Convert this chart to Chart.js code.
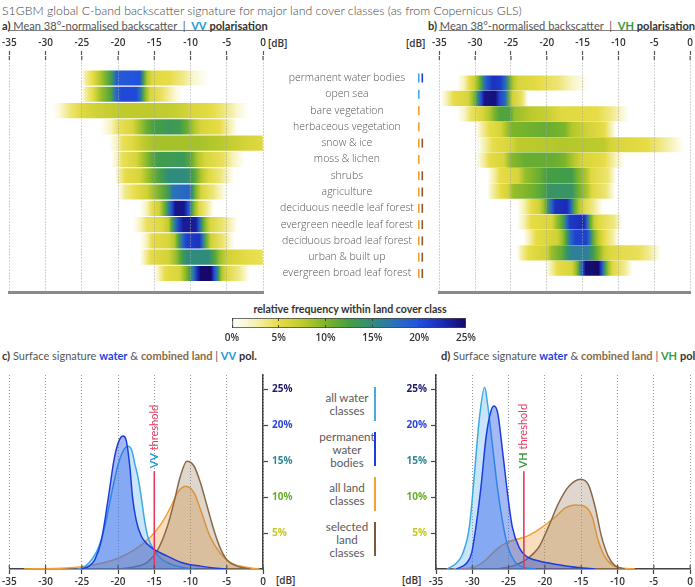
<!DOCTYPE html>
<html lang="en">
<head>
<meta charset="UTF-8">
<title>S1GBM global C-band backscatter signature</title>
<script src="https://cdn.jsdelivr.net/npm/chart.js"></script>
<style>
  body { margin: 0; width: 695px; height: 587px; position: relative; overflow: hidden; background: #fff;
         font-family: Lato, "Open Sans", sans-serif; color: #555; }
  .t { position: absolute; white-space: nowrap; transform: translateY(-50%); line-height: 1.15; }
  .t b { font-weight: 700; color: #333; }
  .c { position: absolute; }
  .leg { position: absolute; width: 100px; left: 297px; text-align: center; font-size: 11.6px;
         line-height: 12.8px; color: #5a5a5a; }
  .sw { position: absolute; left: 374px; width: 1.6px; }
  .tick { font-family: "Open Sans", sans-serif; font-size: 10px; font-weight: 600; color: #333; }
</style>
</head>
<body>
<div class="t" style="left:2px; top:11px; font-size:12.3px; font-weight:300; color:#444;">S1GBM global C-band backscatter signature for major land cover classes (as from Copernicus GLS)</div>
<div class="t" style="left:2px; top:26px; font-size:11.1px;"><b>a)</b> Mean 38°-normalised backscatter &nbsp;|&nbsp; <b style="color:#1b9ad8">VV</b> <b>polarisation</b></div>
<div class="t" style="left:428px; top:26px; font-size:11.1px;"><b>b)</b> Mean 38°-normalised backscatter &nbsp;|&nbsp; <b style="color:#3a9a3a">VH</b> <b>polarisation</b></div>
<div class="t tick" style="left:268px; top:44px;">[dB]</div>
<div class="t tick" style="left:406px; top:44px;">[dB]</div>
<div class="t" style="left:200px; width:300px; text-align:center; top:309px; font-size:10.6px; font-weight:700; color:#333;">relative frequency within land cover class</div>
<div class="t" style="left:2px; top:356px; font-size:11px;"><b>c)</b> Surface signature <b style="color:#2145e0">water</b> &amp; <b style="color:#8b6a45">combined land</b> | <b style="color:#1b9ad8">VV</b> <b>pol.</b></div>
<div class="t" style="left:441px; top:356px; font-size:11px;"><b>d)</b> Surface signature <b style="color:#2145e0">water</b> &amp; <b style="color:#8b6a45">combined land</b> | <b style="color:#3a9a3a">VH</b> <b>pol.</b></div>
<div class="t tick" style="left:276px; top:581px;">[dB]</div>
<div class="t tick" style="left:402px; top:581px;">[dB]</div>

<div class="leg" style="top:392px;">all water<br>classes</div>
<div class="leg" style="top:431px;">permanent<br>water<br>bodies</div>
<div class="leg" style="top:482px;">all land<br>classes</div>
<div class="leg" style="top:521px;">selected<br>land<br>classes</div>
<div class="sw" style="top:387px; height:34px; background:#4aa8e2;"></div>
<div class="sw" style="top:432px; height:34px; background:#1b3de0;"></div>
<div class="sw" style="top:477px; height:34px; background:#f5a033;"></div>
<div class="sw" style="top:522px; height:34px; background:#7a5a3a;"></div>

<canvas id="chartA" class="c" width="430" height="270" style="left:0; top:30px;"></canvas>
<canvas id="chartB" class="c" width="265" height="270" style="left:430px; top:30px;"></canvas>
<canvas id="chartBar" class="c" width="260" height="45" style="left:220px; top:300px;"></canvas>
<canvas id="chartC" class="c" width="300" height="222" style="left:0; top:365px;"></canvas>
<canvas id="chartD" class="c" width="295" height="222" style="left:400px; top:365px;"></canvas>

<script>
// ---- data ----
const xTicks = [-35, -30, -25, -20, -15, -10, -5, 0];
const pctTicks = [5, 10, 15, 20, 25];
const pctTickColors = ['#c8c81e', '#6cae2a', '#2f8a96', '#2a45e0', '#1c1a6e'];
const barTicks = [0, 5, 10, 15, 20, 25];

const classes = ['permanent water bodies', 'open sea', 'bare vegetation', 'herbaceous vegetation', 'snow & ice',
  'moss & lichen', 'shrubs', 'agriculture', 'deciduous needle leaf forest', 'evergreen needle leaf forest',
  'deciduous broad leaf forest', 'urban & built up', 'evergreen broad leaf forest'];
const classGroups = [['water', 'perm'], ['water'], ['land'], ['land'], ['land', 'sel'], ['land'], ['land', 'sel'],
  ['land', 'sel'], ['land', 'sel'], ['land', 'sel'], ['land', 'sel'], ['land', 'sel'], ['land', 'sel']];
const groupColors = { water: '#4aa8e2', perm: '#1b3de0', land: '#f5a033', sel: '#8b5a2b' };

// colour scale of the frequency strips
const cmapPct = [0, 2.5, 5, 7.5, 10, 12.5, 15, 17.5, 20, 22.5, 25];
const cmapColors = ['#ffffff', '#f6f1b4', '#e7dc45', '#bfcb2c', '#7db52a', '#45a042', '#2f8c7c', '#2a6fbf', '#2150e0', '#1a2bb4', '#15086a'];

// relative frequency [dB, %] along each strip, VV
const vvProfiles = [
  [[-25,0],[-24.5,3],[-23.5,5],[-22.5,8],[-21.5,11],[-20.8,14],[-20.2,19],[-17,20],[-16.5,13],[-16,8],[-15.3,5.5],[-13,5],[-11,3.5],[-9.5,1.5],[-7.5,0]],
  [[-25,0],[-24.5,3],[-23.5,5],[-22.3,9],[-21,12],[-20.3,18],[-19.5,20.5],[-17.5,20.5],[-16.8,16],[-16.3,10],[-15.6,6],[-14,4.5],[-13,3],[-12,1.2],[-11,0]],
  [[-29,0],[-28,1.5],[-26.5,4],[-25,5.5],[-23,6.5],[-20,7.5],[-15,7.5],[-12,7],[-10,6],[-7,5],[-5,3.5],[-3.5,1.5],[-2,0]],
  [[-22.5,0],[-21,2],[-20,4.5],[-18,6],[-17,8.5],[-16,11],[-15,12.5],[-13,13.5],[-11.5,13],[-10.5,11],[-9.5,8],[-8.5,6],[-6,5],[-4.5,2.5],[-3.5,0]],
  [[-21.3,0],[-20,2.5],[-19.5,4.5],[-18,5.5],[-16.5,7.5],[-15,8.5],[-9,8.5],[-5,7.5],[-2,6],[0,5.5]],
  [[-21,0],[-20,2.5],[-19.5,4.5],[-17.5,6],[-16.5,8.5],[-15.5,11],[-14.5,13],[-11,13.5],[-10,11.5],[-9,8],[-8,6],[-5.5,4.5],[-4,2],[-2.5,0]],
  [[-20.5,0],[-19.8,3],[-19,5],[-17,6],[-16,8.5],[-15,11],[-14,13],[-13,15],[-10.5,15],[-9.5,12],[-8.5,8],[-7.5,5.5],[-6,4],[-4,0]],
  [[-20,0],[-19,3.5],[-17.5,5],[-16,6.5],[-15,9],[-14,11],[-13,13.5],[-12.5,17],[-10.3,18.5],[-9.7,14],[-9.2,9.5],[-8.5,6],[-7,4],[-5,0]],
  [[-17,0],[-16,2.5],[-15.3,5],[-14.3,6.5],[-13.7,10],[-13.1,15],[-12.6,20],[-12.1,24],[-10.9,24],[-10.3,20],[-9.9,14],[-9.4,9],[-8.8,5.5],[-7.8,3.5],[-6.8,0]],
  [[-18,0],[-17,2],[-16,4.5],[-14,5.5],[-13,7.5],[-12.7,11],[-12.2,16],[-11.6,21],[-11,23.5],[-9.3,23.5],[-8.8,19],[-8.4,13],[-7.9,9],[-7.3,6],[-5.5,4],[-3.5,0]],
  [[-17,0],[-16,2.5],[-15.3,5],[-13,6],[-12.2,8],[-11.7,12],[-11.2,17],[-10.6,21],[-8.8,22],[-8.3,17],[-7.8,11],[-7.2,6.5],[-5.5,4],[-4,0]],
  [[-17,0],[-16.2,3],[-15.5,5],[-13,6.5],[-12,9],[-11.2,12.5],[-10.5,15],[-7.5,15],[-6.7,12],[-6,9],[-5,6.5],[-2,5],[0,4.5]],
  [[-15,0],[-14.2,3],[-13.5,5],[-11.5,6],[-10.8,9],[-10.2,12],[-9.6,17],[-9.1,22],[-8.6,25],[-7.2,25],[-6.7,20],[-6.2,14],[-5.7,8],[-5,5.5],[-3.3,3.5],[-1.8,0]]
];

// relative frequency [dB, %] along each strip, VH
const vhProfiles = [
  [[-32.5,0],[-31.5,2.5],[-30.8,5],[-30,7],[-29.5,10],[-29,14],[-28.5,19],[-27.5,22],[-26.5,21.5],[-25.8,18],[-25.3,12],[-24.7,8],[-24,6],[-21,5],[-18.5,4],[-16.5,2],[-14,0]],
  [[-34.8,0],[-34,2.5],[-33,5],[-31,6],[-30.3,9],[-29.7,14],[-29.2,20],[-28.7,24],[-27.2,24.5],[-26.6,21],[-25.8,18],[-25.3,11],[-24.8,6.5],[-23.5,4.5],[-22.6,0]],
  [[-32.5,0],[-31.5,2],[-30.5,4.5],[-29,6],[-28,8],[-27.2,10.5],[-26.5,12],[-25.2,12],[-24.5,9],[-22,7.5],[-20,7],[-18,5.5],[-13,5],[-11,3.5],[-9.5,1.5],[-8.5,0]],
  [[-30,0],[-29,3],[-28,5],[-26.5,6],[-25.8,8],[-25,10],[-20,11],[-17.5,10],[-16.5,8],[-14.5,6.5],[-12,5],[-11,2.5],[-10.3,0]],
  [[-29.8,0],[-28.5,3],[-27.5,5],[-25,6],[-24,7.5],[-18,8],[-12,7.5],[-11,6],[-6,5],[-4,3.5],[-2,1.5],[-0.8,0]],
  [[-30,0],[-29,2.5],[-28,5],[-26,6],[-25,9.5],[-23,11],[-19,11],[-17.5,10],[-16.3,8],[-15,6],[-12,5],[-10.5,2.5],[-9,0]],
  [[-28.3,0],[-27.3,3],[-26.5,5],[-24,6],[-23,9],[-21,11],[-20,12.5],[-16.5,13],[-15.8,10.5],[-14.5,8],[-13.8,5.5],[-11.5,4],[-10.3,0]],
  [[-28.3,0],[-27.5,3],[-26.5,5],[-25.3,6.5],[-24.7,9],[-22,10.5],[-20.5,12],[-19.7,14],[-16.5,14],[-15.7,11],[-14.3,8],[-13.7,5.5],[-11.8,4],[-10.4,0]],
  [[-24.2,0],[-23.2,2.5],[-22.2,5],[-21,6.5],[-20.4,9],[-19.9,13],[-19.4,18],[-18.8,22],[-17.2,22.5],[-16.6,18],[-16.2,12],[-15.5,8],[-14.8,5.5],[-13.5,3.5],[-12.2,0]],
  [[-24.2,0],[-23.2,2.5],[-22.2,5],[-19.3,6],[-18.6,9],[-17.8,12],[-17.3,17],[-16.8,21.5],[-14.8,22.5],[-14.3,17],[-13.9,11],[-13.4,7],[-12.8,5.5],[-10.5,3.5],[-9.5,0]],
  [[-23.3,0],[-22.5,2.5],[-21.5,5],[-18.5,6.5],[-17.8,9],[-17.2,13],[-16.7,18],[-16,21],[-14.5,21],[-14,17],[-13.5,11],[-12.8,7.5],[-12,5],[-10.8,3],[-9.9,0]],
  [[-24.2,0],[-23.5,3],[-22.5,5],[-20,6.5],[-19.3,9],[-18,11],[-17.2,14],[-16.5,16],[-14.3,16],[-13.5,13],[-12.8,10],[-12,7],[-11,5.5],[-7,4.5],[-5.5,3],[-4,0]],
  [[-20.2,0],[-19.3,3],[-18.5,5],[-16.5,6],[-15.9,9],[-15.4,14],[-15,20],[-14.6,24.5],[-12.8,25],[-12.3,20],[-11.9,13],[-11.3,8],[-10.8,5.5],[-9.2,3.5],[-8,0]]
];

// surface signature curves [dB, %]
const vvPermWater = [[-25,0],[-24,0.4],[-23.2,1.3],[-22.3,4],[-21.4,9.5],[-20.5,15.5],[-19.8,18],[-19.3,18.5],[-18.9,18],[-18.4,14.5],[-18,10],[-17.5,6.8],[-16.8,4.6],[-15.9,3.4],[-15,2.7],[-13.2,1.8],[-10.9,0.8],[-8.6,0.4],[-6.4,0.1],[-5,0]];
const vvAllWater = [[-25.5,0],[-24.5,0.4],[-23.5,1.5],[-22.7,3],[-21.8,6],[-20.9,10.5],[-20,14.5],[-19.2,16.6],[-18.6,17.1],[-18.1,16.5],[-17.7,14.7],[-17.2,12.5],[-16.8,10],[-16.3,6.5],[-15.8,4.2],[-15,2.6],[-14,1.4],[-13,0.8],[-11.5,0.3],[-9.5,0]];
const vvAllLand = [[-33,0],[-28,0.1],[-24.5,0.4],[-22.3,0.8],[-20,1.5],[-17.7,2.7],[-15.5,4.5],[-14.1,6.2],[-12.7,8.7],[-11.8,10.6],[-10.7,11.5],[-9.5,10.6],[-8.6,8.2],[-7.3,4.5],[-5.9,2.2],[-4.5,0.9],[-2.7,0.3],[-0.5,0]];
const vvSelLand = [[-20,0],[-17.7,0.3],[-15.9,1],[-14.5,2.7],[-13.2,5.9],[-12.3,9.2],[-11.4,12.9],[-10.5,15],[-9.5,14.3],[-8.6,11.9],[-7.7,8.7],[-6.8,5.5],[-5.9,2.9],[-5,1.3],[-3.6,0.4],[-1.8,0]];
const vvThreshold = [-15, 13.6];

const vhPermWater = [[-32.2,0],[-30.8,0.8],[-30.1,2.2],[-29.5,5.9],[-28.8,11.5],[-28.1,18.4],[-27.4,22.1],[-27,22.7],[-26.5,21.7],[-25.8,16.1],[-25.1,10.1],[-24.5,5.9],[-23.5,2.9],[-22.6,1.8],[-20.8,1.1],[-18.1,0.6],[-15.4,0.2],[-13.1,0]];
const vhAllWater = [[-33.5,0],[-32.2,0.8],[-31.3,2.2],[-30.4,5.9],[-29.7,13.3],[-29,21.2],[-28.3,25.3],[-27.9,23],[-27.2,17],[-26.5,11],[-25.8,6.4],[-25.1,3.1],[-24.2,1.1],[-23.1,0.3],[-21.3,0]];
const vhAllLand = [[-32.6,0],[-30.4,0.1],[-29,0.6],[-28.1,1.3],[-26.7,2.7],[-25.4,3.6],[-24,4.1],[-22.6,4.5],[-21.3,5.2],[-20,6.1],[-18.5,7.3],[-17.2,8.5],[-15.8,8.9],[-14.5,8.7],[-13.5,7.3],[-12.7,4.1],[-11.8,1.8],[-10.8,0.6],[-9.9,0.2],[-7.6,0]];
const vhSelLand = [[-26.7,0],[-24.5,0.4],[-22.6,1.3],[-20.8,3.1],[-19.5,5.9],[-18.1,9.2],[-16.7,11.5],[-15.1,12.5],[-14,11.7],[-13.1,8.7],[-12.2,4.5],[-11.3,1.8],[-10.4,0.5],[-9,0]];
const vhThreshold = [-22.9, 13.6];

// ---- helpers ----
Chart.defaults.font.family = '"Open Sans", sans-serif';

function hexToRgb(h) {
  return [parseInt(h.slice(1, 3), 16), parseInt(h.slice(3, 5), 16), parseInt(h.slice(5, 7), 16)];
}
function cmap(p) {
  p = Math.max(0, Math.min(25, p));
  for (let i = 1; i < cmapPct.length; i++) {
    if (p <= cmapPct[i]) {
      const t = (p - cmapPct[i - 1]) / (cmapPct[i] - cmapPct[i - 1]);
      const a = hexToRgb(cmapColors[i - 1]), b = hexToRgb(cmapColors[i]);
      return 'rgb(' + a.map((v, k) => Math.round(v + (b[k] - v) * t)).join(',') + ')';
    }
  }
}
function stripGradient(chart, stops) {
  const xs = chart.scales.x;
  const x0 = xs.getPixelForValue(stops[0][0]);
  const x1 = xs.getPixelForValue(stops[stops.length - 1][0]);
  const g = chart.ctx.createLinearGradient(x0, 0, x1, 0);
  stops.forEach(([db, p]) => g.addColorStop((xs.getPixelForValue(db) - x0) / (x1 - x0), cmap(p)));
  return g;
}

const tickFont = { size: 10, weight: '600' };

// short tick marks on the inner side of the dB axis
const innerTicks = {
  id: 'innerTicks',
  afterDraw(chart) {
    const s = chart.scales.x, { ctx, chartArea } = chart;
    const top = s.position === 'top';
    const y0 = top ? chartArea.top : chartArea.bottom;
    ctx.save();
    ctx.strokeStyle = '#555';
    ctx.lineWidth = 1.2;
    s.ticks.forEach(t => {
      const x = s.getPixelForValue(t.value);
      ctx.beginPath();
      ctx.moveTo(x, y0);
      ctx.lineTo(x, y0 + (top ? 4 : -4));
      ctx.stroke();
    });
    ctx.restore();
  }
};

const classMarkers = {
  id: 'classMarkers',
  afterDraw(chart) {
    const ys = chart.scales.y, ctx = chart.ctx;
    const x0 = chart.chartArea.right + 155;
    classGroups.forEach((g, i) => {
      const y = ys.getPixelForValue(i);
      g.forEach((k, j) => {
        ctx.fillStyle = groupColors[k];
        ctx.fillRect(x0 + j * 3.5, y - 4.5, 1.6, 9);
      });
    });
  }
};

function dbAxisTop() {
  return {
    type: 'linear', position: 'top', min: -35, max: 0,
    afterBuildTicks: s => { s.ticks = xTicks.map(v => ({ value: v })); },
    ticks: { color: '#333', font: tickFont, padding: 2, maxRotation: 0 },
    grid: { color: '#a5a5a5', z: 1, tickColor: '#555', tickLength: 5, tickWidth: 1.2 },
    border: { color: '#555', width: 1.5, dash: [1, 2] },
    afterFit: s => { s.height = 26; }
  };
}
const rowMin = -0.793, rowMax = 12.58;

function stripChart(id, profiles, padding, yAxis, extraPlugins) {
  return new Chart(document.getElementById(id), {
    type: 'bar',
    data: {
      datasets: [{
        data: profiles.map((s, i) => ({ y: i, x: [s[0][0], s[s.length - 1][0]] })),
        backgroundColor: c => (c.chart.chartArea && c.dataIndex !== undefined)
          ? stripGradient(c.chart, profiles[c.dataIndex]) : 'rgba(0,0,0,0)',
        borderWidth: 0,
        barThickness: 14.5
      }]
    },
    options: {
      indexAxis: 'y', responsive: false, animation: false, events: [],
      layout: { padding },
      plugins: { legend: { display: false }, tooltip: { enabled: false } },
      scales: {
        x: dbAxisTop(),
        x2: {
          type: 'linear', position: 'bottom', min: -35, max: 0,
          ticks: { display: false }, grid: { display: false },
          border: { color: '#8a8a8a', width: 3 },
          afterFit: s => { s.height = 8; }
        },
        y: yAxis
      }
    },
    plugins: [innerTicks].concat(extraPlugins)
  });
}

// class names sit on a right-hand axis; an invisible tick length pushes them to the middle
stripChart('chartA', vvProfiles, { left: 7, right: 0, top: 0, bottom: 0 }, {
  type: 'linear', position: 'right', min: rowMin, max: rowMax, reverse: true,
  afterBuildTicks: s => { s.ticks = classes.map((_, i) => ({ value: i })); },
  ticks: { autoSkip: false, callback: v => classes[v], color: '#555', font: { size: 10.5, weight: '300' },
           crossAlign: 'center', padding: 0 },
  grid: { drawOnChartArea: false, tickLength: 17, tickColor: 'rgba(0,0,0,0)' }, border: { display: false },
  afterFit: s => { s.width = 167; }
}, [classMarkers]);

stripChart('chartB', vhProfiles, { left: 6, right: 3, top: 0, bottom: 0 }, {
  type: 'linear', display: false, min: rowMin, max: rowMax, reverse: true
}, []);

// colour bar
new Chart(document.getElementById('chartBar'), {
  type: 'bar',
  data: {
    labels: [''],
    datasets: [{
      data: [[0, 25]],
      backgroundColor: c => {
        const ch = c.chart;
        if (!ch.chartArea) return 'rgba(0,0,0,0)';
        const xs = ch.scales.x;
        const g = ch.ctx.createLinearGradient(xs.getPixelForValue(0), 0, xs.getPixelForValue(25), 0);
        cmapPct.forEach((p, i) => g.addColorStop(p / 25, cmapColors[i]));
        return g;
      },
      borderColor: '#444', borderWidth: 1, borderSkipped: false,
      barPercentage: 1, categoryPercentage: 1
    }]
  },
  options: {
    indexAxis: 'y', responsive: false, animation: false, events: [],
    layout: { padding: { left: 12, right: 12, top: 18, bottom: 0 } },
    plugins: { legend: { display: false }, tooltip: { enabled: false } },
    scales: {
      x: {
        type: 'linear', min: 0, max: 25,
        afterBuildTicks: s => { s.ticks = barTicks.map(v => ({ value: v })); },
        ticks: { callback: v => v + '%', color: '#333', font: { size: 10, weight: '600' }, padding: 4 },
        grid: { z: 1, color: '#444', drawTicks: false },
        border: { display: false, dash: [3, 4] },
        afterFit: s => { s.height = 17; }
      },
      y: { display: false }
    }
  }
});

// surface signature charts
function thresholdLabel(thr, pol, polColor) {
  return {
    id: 'thresholdLabel',
    afterDatasetsDraw(chart) {
      const { ctx, scales: { x, y } } = chart;
      const px = x.getPixelForValue(thr[0]), py = y.getPixelForValue(thr[1]) - 3;
      ctx.save();
      ctx.translate(px, py);
      ctx.rotate(-Math.PI / 2);
      ctx.textBaseline = 'middle';
      ctx.textAlign = 'left';
      ctx.font = '700 11px Lato, "Open Sans"';
      ctx.fillStyle = polColor;
      ctx.fillText(pol, 0, 0);
      const w = ctx.measureText(pol + ' ').width;
      ctx.font = '400 11px Lato, "Open Sans"';
      ctx.fillStyle = '#e9385f';
      ctx.fillText('threshold', w, 0);
      ctx.restore();
    }
  };
}
const toXY = arr => arr.map(([x, y]) => ({ x, y }));
const curve = (data, line, fill) => ({
  data: toXY(data), borderColor: line, backgroundColor: fill, fill: 'origin',
  borderWidth: 1.5, pointRadius: 0, cubicInterpolationMode: 'monotone'
});

function signatureChart(id, s, thr, pol, polColor, side, padding, yWidth) {
  return new Chart(document.getElementById(id), {
    type: 'line',
    data: {
      datasets: [
        { data: [{ x: thr[0], y: 0 }, { x: thr[0], y: thr[1] }], borderColor: '#e9385f', borderWidth: 1.6, pointRadius: 0, fill: false },
        curve(s.perm, '#1b3de0', 'rgba(30,80,230,0.4)'),
        curve(s.all, '#3ba9e6', 'rgba(100,180,240,0.35)'),
        curve(s.sel, '#8a6a48', 'rgba(150,120,90,0.3)'),
        curve(s.land, '#f5a033', 'rgba(235,160,70,0.35)')
      ]
    },
    options: {
      responsive: false, animation: false, events: [],
      layout: { padding },
      plugins: { legend: { display: false }, tooltip: { enabled: false } },
      scales: {
        x: {
          type: 'linear', min: -35, max: 0,
          afterBuildTicks: sc => { sc.ticks = xTicks.map(v => ({ value: v })); },
          ticks: { color: '#333', font: tickFont, padding: 2, maxRotation: 0 },
          grid: { color: '#9a9a9a', tickColor: '#444', tickLength: 5, tickWidth: 1.2 },
          border: { color: '#444', width: 1.5, dash: [1, 2] },
          afterFit: sc => { sc.height = 18; }
        },
        y: {
          type: 'linear', position: side, min: 0, max: 27,
          afterBuildTicks: sc => { sc.ticks = pctTicks.map(v => ({ value: v })); },
          ticks: { callback: v => v + '%', color: c => pctTickColors[pctTicks.indexOf(c.tick.value)],
                   font: { size: 10, weight: '700' }, padding: 4 },
          grid: { drawOnChartArea: false, tickColor: '#444', tickLength: 5, tickWidth: 1.2 },
          border: { color: '#444', width: 1.5 },
          afterFit: sc => { sc.width = yWidth; }
        }
      }
    },
    plugins: [innerTicks, thresholdLabel(thr, pol, polColor)]
  });
}

signatureChart('chartC', { perm: vvPermWater, all: vvAllWater, sel: vvSelLand, land: vvAllLand },
  vvThreshold, 'VV', '#1b9ad8', 'right', { left: 7, right: 0, top: 10, bottom: 0 }, 37);
signatureChart('chartD', { perm: vhPermWater, all: vhAllWater, sel: vhSelLand, land: vhAllLand },
  vhThreshold, 'VH', '#3a9a3a', 'left', { left: 0, right: 3, top: 10, bottom: 0 }, 36);
</script>
</body>
</html>
